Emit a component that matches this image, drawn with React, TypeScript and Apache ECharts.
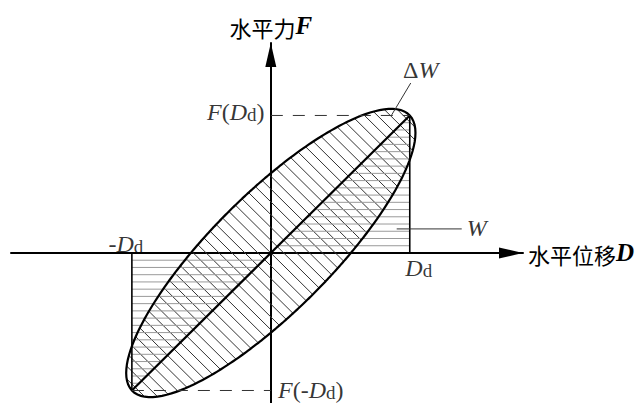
import React, { useEffect, useRef } from 'react';
import * as echarts from 'echarts';

// ---- values (D and F normalised so that Dd = 1) ----
const D_RANGE = [-1.87, 1.815];
const F_RANGE = [-1.091, 1.527];
const Dd = 1;
const F_AT_DD = 1;
const F_AT_NEG_DD = -1;
const LOOP_D_INTERCEPT = 0.576; // where the loop crosses the D axis
const LOOP_F_INTERCEPT = 0.58; // where the loop crosses the F axis
const DIAG_HATCH_STEP = 0.093;
const HORIZ_HATCH_LINES = 19;
const DELTA_W_LEADER = [[1.007, 1.236], [0.87, 1.004]];
const W_LEADER = [[0.906, 0.175], [1.374, 0.175]];
const X_NAME = ['水平位移', 'D'];
const Y_NAME = ['水平力', 'F'];
const MARK_TEXTS = [
  '{i|D}{s|d}',
  '{r|-}{i|D}{s|d}',
  '{i|F}{r|(}{i|D}{s|d}{r|)}',
  '{i|F}{r|(-}{i|D}{s|d}{r|)}',
  '{r|Δ}{i|W}',
  '{i|W}',
];

const SERIF = 'Liberation Serif';
const rich = {
  i: { fontFamily: SERIF, fontStyle: 'italic', fontSize: 24, color: '#000', verticalAlign: 'bottom', lineHeight: 22 },
  r: { fontFamily: SERIF, fontSize: 24, color: '#000', verticalAlign: 'bottom', lineHeight: 22 },
  s: { fontFamily: SERIF, fontSize: 19, color: '#000', verticalAlign: 'bottom', lineHeight: 22 },
  c: { fontFamily: 'Noto Sans CJK SC', fontSize: 22, color: '#000', verticalAlign: 'bottom', lineHeight: 24 },
  v: { fontFamily: SERIF, fontStyle: 'italic', fontWeight: 'bold', fontSize: 25, color: '#000', verticalAlign: 'bottom', lineHeight: 24 },
};

function buildOption() {
  const P = 1 / (LOOP_D_INTERCEPT * LOOP_D_INTERCEPT);
  const Q = 1 / (LOOP_F_INTERCEPT * LOOP_F_INTERCEPT);
  const R = (1 - P * Dd * Dd - Q * F_AT_DD * F_AT_DD) / (2 * Dd * F_AT_DD);

  const axisCommon = {
    type: 'value',
    axisTick: { show: false },
    axisLabel: { show: false },
    splitLine: { show: false },
    nameLocation: 'end',
    nameGap: 5,
    nameTextStyle: { rich },
  };

  const markPoints = [
    [Dd, 0],
    [-Dd, 0],
    [0, F_AT_DD],
    [0, F_AT_NEG_DD],
    DELTA_W_LEADER[0],
    W_LEADER[1],
  ];
  const markOffsets = [
    [9, 16],
    [-6, -8],
    [-35, -2],
    [40, 1],
    [10, -12],
    [15, 0],
  ];

  const seg = (data: number[][], width: number, color: string, type: any = 'solid') => ({
    type: 'line',
    data,
    symbol: 'none',
    silent: true,
    clip: false,
    z: 3,
    lineStyle: { width, color, type },
  });

  return {
    animation: false,
    backgroundColor: '#fff',
    grid: { left: 11, right: 120, top: 43, bottom: 0, containLabel: false, outerBoundsMode: 'none' },
    xAxis: {
      ...axisCommon,
      min: D_RANGE[0],
      max: D_RANGE[1],
      name: `{c|${X_NAME[0]}}{v|${X_NAME[1]}}`,
      axisLine: {
        onZero: true,
        symbol: ['none', 'triangle'],
        symbolSize: [11, 24],
        symbolOffset: [0, -12],
        lineStyle: { color: '#000', width: 2 },
      },
    },
    yAxis: {
      ...axisCommon,
      min: F_RANGE[0],
      max: F_RANGE[1],
      name: `{c|${Y_NAME[0]}}{v|${Y_NAME[1]}}`,
      axisLine: {
        onZero: true,
        symbol: ['none', 'triangle'],
        symbolSize: [11, 24],
        symbolOffset: [0, -12],
        lineStyle: { color: '#000', width: 2 },
      },
    },
    series: [
      {
        type: 'custom',
        data: [[0, 0]],
        clip: false,
        silent: true,
        z: 2,
        renderItem: (_params: any, api: any) => {
          const children: any[] = [];
          // diagonal hatching inside the loop
          const a = P + Q - 2 * R;
          for (let k = -30; k <= 30; k++) {
            const c = k * DIAG_HATCH_STEP;
            const b = 2 * c * (R - Q);
            const cc = Q * c * c - 1;
            const disc = b * b - 4 * a * cc;
            if (disc <= 0) continue;
            const t1 = (-b - Math.sqrt(disc)) / (2 * a);
            const t2 = (-b + Math.sqrt(disc)) / (2 * a);
            const p1 = api.coord([t1, c - t1]);
            const p2 = api.coord([t2, c - t2]);
            children.push({
              type: 'line',
              shape: { x1: p1[0], y1: p1[1], x2: p2[0], y2: p2[1] },
              style: { stroke: '#333', lineWidth: 1 },
            });
          }
          // horizontal hatching (W triangles)
          for (let j = 1; j < HORIZ_HATCH_LINES; j++) {
            const f = j / HORIZ_HATCH_LINES;
            const yPos = f * F_AT_DD;
            const pa = api.coord([f * Dd, yPos]);
            const pb = api.coord([Dd, yPos]);
            children.push({
              type: 'line',
              shape: { x1: pa[0], y1: pa[1], x2: pb[0], y2: pb[1] },
              style: { stroke: '#9a9a9a', lineWidth: 1 },
            });
            const yNeg = f * F_AT_NEG_DD;
            const pc = api.coord([-Dd, yNeg]);
            const pd = api.coord([-f * Dd, yNeg]);
            children.push({
              type: 'line',
              shape: { x1: pc[0], y1: pc[1], x2: pd[0], y2: pd[1] },
              style: { stroke: '#9a9a9a', lineWidth: 1 },
            });
          }
          // loop outline
          const pts: number[][] = [];
          for (let i = 0; i < 360; i++) {
            const th = (i * Math.PI) / 180;
            const cs = Math.cos(th);
            const sn = Math.sin(th);
            const r = 1 / Math.sqrt(P * cs * cs + Q * sn * sn + 2 * R * cs * sn);
            pts.push(api.coord([r * cs, r * sn]));
          }
          children.push({
            type: 'polygon',
            shape: { points: pts },
            style: { fill: 'none', stroke: '#000', lineWidth: 2.2 },
          });
          return { type: 'group', children };
        },
      },
      seg([[-Dd, F_AT_NEG_DD], [Dd, F_AT_DD]], 2.2, '#000'),
      seg([[Dd, 0], [Dd, F_AT_DD]], 1.6, '#000'),
      seg([[-Dd, 0], [-Dd, F_AT_NEG_DD]], 1.6, '#000'),
      seg([[0, F_AT_DD], [Dd, F_AT_DD]], 1, '#333', [12, 10]),
      seg([[-Dd, F_AT_NEG_DD], [0, F_AT_NEG_DD]], 1, '#333', [12, 10]),
      seg(DELTA_W_LEADER, 1, '#333'),
      seg(W_LEADER, 1, '#333'),
      {
        type: 'scatter',
        symbolSize: 0,
        silent: true,
        clip: false,
        z: 5,
        data: markPoints.map((p, idx) => ({
          value: p,
          label: {
            show: true,
            position: 'inside',
            offset: markOffsets[idx],
            formatter: MARK_TEXTS[idx],
            rich,
          },
        })),
      },
    ],
  };
}

export default function App() {
  const ref = useRef<HTMLDivElement>(null);
  useEffect(() => {
    if (!ref.current) return;
    const chart = echarts.init(ref.current, undefined, { renderer: 'svg' });
    chart.setOption(buildOption() as any);
    return () => chart.dispose();
  }, []);
  return (
    <div
      ref={ref}
      style={{ position: 'fixed', left: 0, top: 0, width: 643, height: 403, background: '#fff' }}
    />
  );
}
